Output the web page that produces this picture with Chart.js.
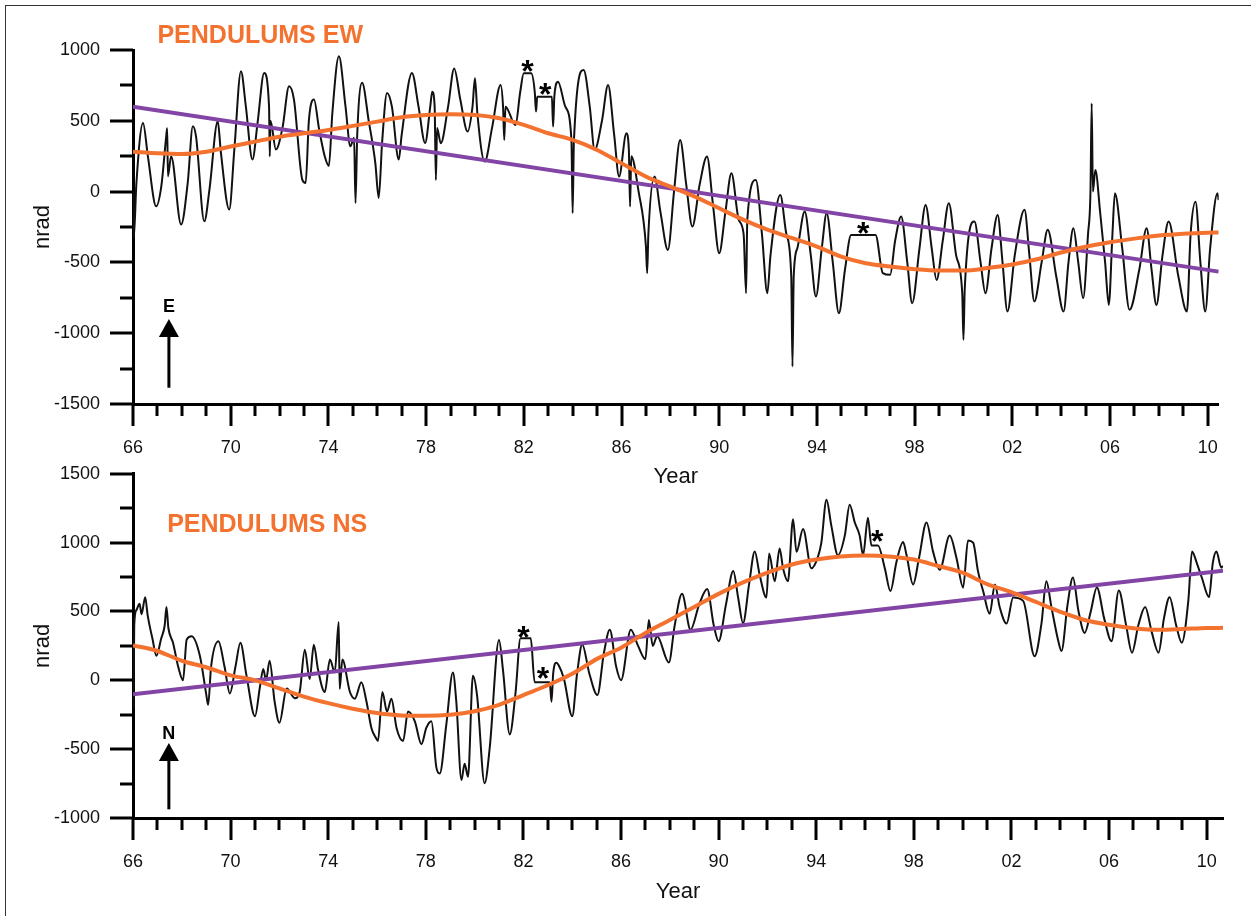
<!DOCTYPE html>
<html>
<head>
<meta charset="utf-8">
<script src="https://cdn.jsdelivr.net/npm/chart.js@4.4.1/dist/chart.umd.min.js"></script>
<style>
  html, body { margin:0; padding:0; background:#fff; }
  #page { position:relative; width:1251px; height:916px; overflow:hidden; background:#fff; }
  #frame { position:absolute; left:5px; top:5px; width:1260px; height:920px; border-left:1.5px solid #333; border-top:1.5px solid #333; }
  canvas { position:absolute; left:0; }
  #c1 { top:0; }
  #c2 { top:430px; }
</style>
</head>
<body>
<div id="page">
  <div id="frame"></div>
  <canvas id="c1" width="1251" height="490"></canvas>
  <canvas id="c2" width="1251" height="475"></canvas>
</div>
<script>
// ---------- DATA ----------
const yearTicks = [66,67,68,69,70,71,72,73,74,75,76,77,78,79,80,81,82,83,84,85,86,87,88,89,90,91,92,93,94,95,96,97,98,99,100,101,102,103,104,105,106,107,108,109,110];
const ewYTicks = [-1500,-1250,-1000,-750,-500,-250,0,250,500,750,1000];
const nsYTicks = [-1000,-750,-500,-250,0,250,500,750,1000,1250,1500];

// Pendulums EW observed series (year since 1900, nrad)
const ewYears = [66.0,66.03,66.14,66.41,66.61,66.95,67.16,67.36,67.4,67.43,67.56,67.97,68.24,68.45,68.58,68.92,69.13,69.47,69.6,69.94,70.15,70.42,70.62,70.89,71.1,71.37,71.57,71.6,71.63,71.85,72.12,72.39,72.59,72.93,73.07,73.2,73.41,73.61,73.85,74.02,74.16,74.43,74.7,74.9,75.05,75.11,75.18,75.38,75.65,75.92,76.06,76.2,76.4,76.6,76.88,77.0,77.42,77.69,77.96,78.17,78.25,78.35,78.4,78.45,78.6,78.9,79.15,79.4,79.7,79.9,80.0,80.1,80.4,80.7,81.05,81.15,81.2,81.25,81.66,81.85,82.0,82.3,82.45,82.5,82.55,83.15,83.2,83.25,83.4,83.7,83.95,84.0,84.05,84.45,84.7,84.9,85.2,85.45,85.7,85.9,86.2,86.3,86.35,86.4,86.7,87.0,87.05,87.1,87.35,87.6,87.9,88.15,88.4,88.65,88.9,89.2,89.5,89.75,90.0,90.25,90.5,90.8,91.0,91.1,91.15,91.5,91.75,91.97,92.1,92.5,92.75,92.95,93.0,93.05,93.2,93.5,93.75,93.96,94.2,94.4,94.65,94.9,95.15,95.4,96.4,96.7,97.0,97.2,97.45,97.7,97.9,98.2,98.45,98.7,98.9,99.15,99.4,99.7,99.95,100.0,100.05,100.45,100.7,100.9,101.15,101.4,101.6,101.8,102.1,102.5,102.7,102.9,103.2,103.45,103.8,104.1,104.3,104.5,104.7,104.9,105.1,105.2,105.25,105.3,105.4,105.6,105.8,105.95,106.1,106.2,106.5,106.8,107.2,107.5,107.7,107.9,108.15,108.4,108.8,109.15,109.3,109.5,109.7,109.9,110.1,110.4,110.45];
const ewValues = [0,-330,61,485,249,-104,38,391,447,108,250,-233,61,461,390,-210,14,496,273,-127,300,850,602,226,485,838,602,249,500,297,450,744,650,85,61,500,650,450,249,180,550,955,602,320,380,-80,400,768,500,203,-45,350,697,600,226,400,838,600,344,600,706,600,82,450,341,600,870,650,424,600,800,550,212,450,753,600,365,600,470,700,835,835,700,565,670,670,459,670,776,600,365,-153,350,859,600,294,500,753,400,106,412,300,-106,250,0,-388,-576,-300,106,-150,-412,0,365,50,-247,50,247,-100,-435,-150,129,-200,-300,-718,-200,82,-300,-718,-450,-24,-300,-600,-1235,-600,-400,-141,-450,-741,-400,-153,-500,-859,-550,-306,-306,-576,-588,-350,-176,-500,-788,-400,-94,-400,-624,-350,-82,-450,-718,-1047,-700,-212,-500,-718,-400,-165,-500,-847,-450,-129,-450,-776,-500,-270,-600,-847,-500,-259,-500,-753,-300,0,623,0,153,-153,-500,-800,-300,-12,-400,-835,-550,-259,-550,-800,-450,-212,-600,-847,-300,-71,-500,-847,-400,-12,-60];

// Pendulums EW fitted oscillation (orange) and linear trend (purple)
const ewFitYears = [66,67,68,69,70,71,72,73,74,75,76,77,78,79,80,81,82,83,84,85,86,87,88,89,90,91,92,93,94,95,96,97,98,99,100,101,102,103,104,105,106,107,108,109,110,110.45];
const ewFitValues = [282,271,266,282,318,353,388,412,435,464,494,525,541,546,541,518,471,412,365,294,200,106,35,-35,-118,-200,-271,-329,-388,-459,-506,-529,-548,-558,-558,-540,-515,-478,-430,-390,-358,-332,-310,-297,-290,-289];
const ewTrendYears = [66,110.45];
const ewTrendValues = [600,-565];

// Pendulums NS observed series
const nsYears = [66.0,66.02,66.05,66.14,66.27,66.35,66.5,66.6,66.8,66.96,67.15,67.3,67.37,67.45,67.64,67.85,68.05,68.2,68.4,68.74,69.0,69.08,69.2,69.5,69.75,69.97,70.2,70.4,70.65,71.0,71.2,71.34,71.45,71.6,71.8,72.0,72.3,72.63,72.83,73.04,73.24,73.41,73.58,73.86,74.07,74.27,74.43,74.47,74.58,74.89,75.09,75.36,75.57,75.77,75.95,76.04,76.22,76.41,76.59,76.8,77.07,77.27,77.55,77.82,78.02,78.23,78.43,78.57,78.84,79.11,79.25,79.46,79.59,79.73,79.93,80.1,80.41,80.62,81.0,81.16,81.44,81.68,81.88,82.3,82.46,83.08,83.15,83.22,83.35,83.45,83.66,84.0,84.2,84.41,84.7,85.03,85.3,85.54,85.8,86.0,86.4,86.7,87.0,87.14,87.3,87.48,87.96,88.2,88.5,88.85,89.2,89.53,89.8,90.0,90.3,90.6,90.8,91.0,91.25,91.48,91.68,91.96,92.07,92.3,92.5,92.64,92.84,93.05,93.19,93.46,93.8,94.07,94.21,94.42,94.62,94.89,95.17,95.37,95.58,95.78,95.92,96.12,96.26,96.53,96.81,97.04,97.29,97.56,97.7,97.97,98.21,98.52,98.79,99.06,99.47,99.75,100.02,100.22,100.43,100.63,100.84,101.11,101.32,101.52,101.8,102.07,102.48,102.95,103.23,103.43,103.64,103.91,104.05,104.3,104.52,104.75,105.0,105.25,105.5,105.8,106.1,106.4,106.7,106.94,107.2,107.48,107.75,108.03,108.25,108.48,108.75,108.98,109.25,109.4,109.6,109.8,110.1,110.25,110.4,110.6,110.67];
const nsValues = [0,-200,400,510,557,480,604,474,300,178,300,400,533,380,273,100,0,296,320,178,-100,-178,100,284,100,-95,100,273,36,-261,-50,83,0,142,-150,-308,-59,-130,-85,222,9,258,80,-85,151,57,424,-62,151,-85,-133,-14,-156,-346,-417,-440,-85,-227,-133,-346,-440,-227,-298,-464,-346,-298,-630,-677,-322,57,-156,-724,-606,-700,33,-109,-748,-488,293,80,-393,-85,305,305,-14,-14,-156,50,128,107,12,-261,50,261,50,-107,200,367,100,0,367,250,154,438,250,320,130,400,628,367,550,664,400,284,550,794,600,415,700,936,767,601,921,719,957,814,719,1170,933,1099,814,897,1000,1312,1122,909,1051,1276,1146,1051,909,1181,980,980,814,648,862,1004,910,696,886,1146,933,803,1051,886,673,1016,1000,791,648,483,696,530,412,601,577,175,412,719,530,293,213,550,747,500,344,500,675,450,284,652,400,201,400,533,350,201,450,604,400,273,581,936,850,747,604,850,936,818,830];

// Pendulums NS fitted oscillation (orange) and linear trend (purple)
const nsFitYears = [66,67,68,69,70,71,72,73,74,75,76,77,78,79,80,81,82,83,84,85,86,87,88,89,90,91,92,93,94,95,96,97,98,99,100,101,102,103,104,105,106,107,108,109,110,110.67];
const nsFitValues = [254,213,142,95,36,0,-59,-118,-166,-206,-237,-255,-258,-250,-225,-178,-107,-36,47,154,237,344,438,533,628,711,782,841,877,900,907,900,877,830,782,699,640,569,498,438,403,379,367,372,380,381];
const nsTrendYears = [66,110.67];
const nsTrendValues = [-102,796];

// ---------- STYLE ----------
const ORANGE = '#f4722f';
const PURPLE = '#8245a5';
const FONT = '"Liberation Sans", Arial, sans-serif';

function pts(xs, ys) { return xs.map((x, i) => ({x: x, y: ys[i]})); }

function yearLabel(v) {
  if ((v - 66) % 4 !== 0) return '';
  const s = String(v % 100);
  return s.length < 2 ? '0' + s : s;
}

// draws tick marks of varying length on both axes (from scale tick values)
const tickMarks = {
  id: 'tickMarks',
  afterDraw(chart) {
    const ctx = chart.ctx, xs = chart.scales.x, ys = chart.scales.y;
    const ca = chart.chartArea;
    ctx.save();
    ctx.strokeStyle = '#000';
    ctx.lineWidth = 3;
    ctx.lineCap = 'butt';
    xs.ticks.forEach(t => {
      const px = Math.round(xs.getPixelForValue(t.value));
      const len = ((t.value - 66) % 4 === 0) ? 22 : 12;
      ctx.beginPath(); ctx.moveTo(px, ca.bottom); ctx.lineTo(px, ca.bottom + len); ctx.stroke();
    });
    ys.ticks.forEach(t => {
      const py = Math.round(ys.getPixelForValue(t.value));
      const len = (t.value % 500 === 0) ? 23 : 13;
      ctx.beginPath(); ctx.moveTo(ca.left, py); ctx.lineTo(ca.left - len, py); ctx.stroke();
    });
    ctx.restore();
  }
};

// annotations: panel title, direction arrow, asterisks
function annotations(opts) {
  return {
    id: 'annot',
    afterDraw(chart) {
      const ctx = chart.ctx, xs = chart.scales.x, ys = chart.scales.y;
      ctx.save();
      ctx.fillStyle = ORANGE;
      ctx.font = 'bold 25px ' + FONT;
      ctx.textAlign = 'left';
      ctx.textBaseline = 'middle';
      ctx.fillText(opts.title, xs.getPixelForValue(opts.titleAt[0]), ys.getPixelForValue(opts.titleAt[1]));
      const ax = xs.getPixelForValue(opts.arrowX);
      const tip = ys.getPixelForValue(opts.arrowTip);
      const bot = ys.getPixelForValue(opts.arrowBottom);
      ctx.fillStyle = '#000';
      ctx.strokeStyle = '#000';
      ctx.beginPath();
      ctx.moveTo(ax, tip); ctx.lineTo(ax - 10, tip + 18); ctx.lineTo(ax + 10, tip + 18); ctx.closePath(); ctx.fill();
      ctx.lineWidth = 3;
      ctx.beginPath(); ctx.moveTo(ax, tip + 16); ctx.lineTo(ax, bot); ctx.stroke();
      ctx.font = 'bold 18px ' + FONT;
      ctx.textAlign = 'center';
      ctx.textBaseline = 'middle';
      ctx.fillText(opts.letter, ax, ys.getPixelForValue(opts.letterY) + 1);
      ctx.font = 'bold 32px ' + FONT;
      ctx.textBaseline = 'alphabetic';
      opts.stars.forEach(s => {
        ctx.fillText('*', xs.getPixelForValue(s[0]), ys.getPixelForValue(s[1]) + 18);
      });
      ctx.restore();
    }
  };
}

function makeChart(canvasId, cfg) {
  return new Chart(document.getElementById(canvasId), {
    type: 'line',
    data: {
      datasets: [
        { data: pts(cfg.fitX, cfg.fitY), borderColor: ORANGE, borderWidth: 4, pointRadius: 0, cubicInterpolationMode: 'monotone', fill: false },
        { data: pts(cfg.trendX, cfg.trendY), borderColor: PURPLE, borderWidth: 4, pointRadius: 0, tension: 0, fill: false },
        { data: pts(cfg.obsX, cfg.obsY), borderColor: '#111', borderWidth: 2, pointRadius: 0, cubicInterpolationMode: 'monotone', fill: false }
      ]
    },
    options: {
      responsive: false,
      animation: false,
      events: [],
      layout: { padding: { top: cfg.padTop, right: 28, bottom: 0, left: 0 } },
      plugins: { legend: { display: false }, tooltip: { enabled: false }, title: { display: false } },
      scales: {
        x: {
          type: 'linear',
          min: 66, max: cfg.xMax,
          afterBuildTicks: s => { s.ticks = yearTicks.map(v => ({ value: v })); },
          afterFit: s => { s.height = cfg.xHeight; },
          grid: { display: false, drawTicks: false },
          border: { display: true, width: 3, color: '#000' },
          ticks: { autoSkip: false, maxRotation: 0, padding: 33, color: '#111', font: { family: FONT, size: 18 }, callback: v => yearLabel(v) },
          title: { display: true, text: 'Year', color: '#111', font: { family: FONT, size: 22 }, padding: { top: 0, bottom: 0 } }
        },
        y: {
          type: 'linear',
          min: cfg.yMin, max: cfg.yMax,
          afterBuildTicks: s => { s.ticks = cfg.yTicks.map(v => ({ value: v })); },
          afterFit: s => { s.width = 133; },
          grid: { display: false, drawTicks: false },
          border: { display: true, width: 3, color: '#000' },
          ticks: { autoSkip: false, padding: 33, color: '#111', font: { family: FONT, size: 18 }, callback: v => (v % 500 === 0 ? String(v) : '') },
          title: { display: true, text: 'nrad', color: '#111', font: { family: FONT, size: 22 }, padding: { top: 30, bottom: 0 } }
        }
      }
    },
    plugins: [tickMarks, annotations(cfg.annot)]
  });
}

makeChart('c1', {
  fitX: ewFitYears, fitY: ewFitValues, trendX: ewTrendYears, trendY: ewTrendValues, obsX: ewYears, obsY: ewValues,
  xMax: 110.45, yMin: -1500, yMax: 1000, yTicks: ewYTicks, padTop: 50, xHeight: 86,
  annot: { title: 'PENDULUMS EW', titleAt: [67.0, 1095], letter: 'E', letterY: -805, arrowX: 67.47, arrowTip: -900, arrowBottom: -1385,
           stars: [[82.15, 904], [82.88, 742], [95.9, -240]] }
});

makeChart('c2', {
  fitX: nsFitYears, fitY: nsFitValues, trendX: nsTrendYears, trendY: nsTrendValues, obsX: nsYears, obsY: nsValues,
  xMax: 110.67, yMin: -1000, yMax: 1500, yTicks: nsYTicks, padTop: 36, xHeight: 87,
  annot: { title: 'PENDULUMS NS', titleAt: [67.4, 1127], letter: 'N', letterY: -384, arrowX: 67.47, arrowTip: -455, arrowBottom: -937,
           stars: [[82.0, 369], [82.8, 71], [96.5, 1065]] }
});
</script>
</body>
</html>
